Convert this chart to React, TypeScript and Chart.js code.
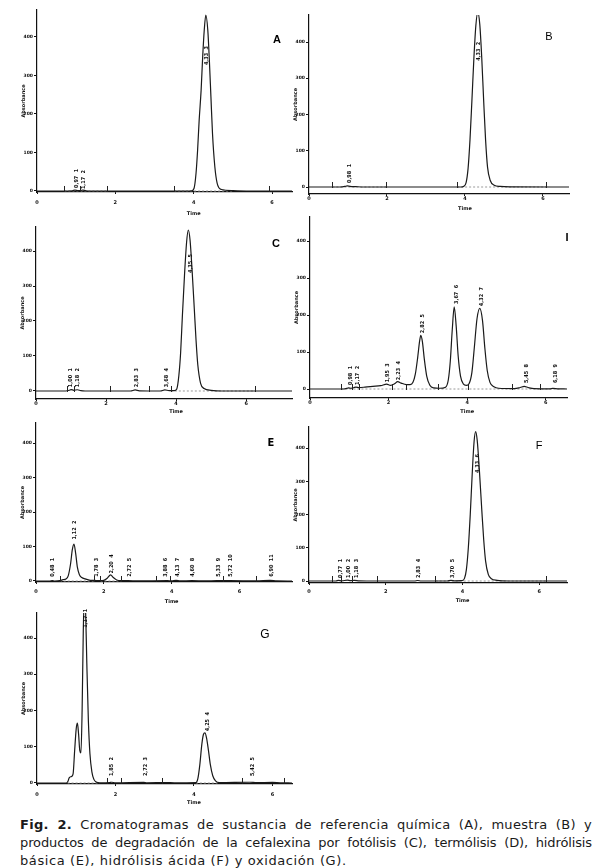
import React, { useEffect, useRef } from "react";
import { Chart, registerables } from "chart.js";

Chart.register(...registerables);

// ---------- Panel A : referencia química ----------
const aTime = [0, 0.6, 0.9, 0.97, 1.05, 1.12, 1.17, 1.25, 1.4, 3.8, 3.95, 4.01, 4.06, 4.1, 4.14, 4.19, 4.23, 4.27, 4.31, 4.36, 4.4, 4.44, 4.48, 4.54, 4.6, 4.71, 5.0, 5.5, 6.51];
const aAbs = [0, 0, 0.5, 2.5, 0.8, 1.2, 2.5, 0.6, 0, 0, 0.5, 7, 46, 106, 184, 262, 349, 418, 457, 418, 340, 245, 150, 63, 20, 4, 1, 0, 0];
const aLabelText = ["0,97  1", "1,17  2", "4,33  3"];
const aLabelT = [1.02, 1.2, 4.34];
const aLabelV = [8, 5, 327];
const aMarks = [0.69, 1.1, 1.78, 3.5, 5.92];
const aDash = [[0.7, 1.8], [3.5, 5.0]];

// ---------- Panel B : muestra ----------
const bTime = [0, 0.8, 0.92, 0.98, 1.05, 1.2, 1.4, 3.9, 3.97, 4.03, 4.08, 4.13, 4.18, 4.23, 4.28, 4.33, 4.38, 4.43, 4.48, 4.53, 4.58, 4.65, 4.75, 4.9, 5.2, 6.67];
const bAbs = [0, 0, 1.5, 3, 2, 1, 0, 0, 2, 12, 50, 130, 240, 355, 445, 482, 450, 360, 240, 130, 55, 18, 5, 1.5, 0.5, 0];
const bLabelText = ["0,98  1", "4,33  2"];
const bLabelT = [1.03, 4.36];
const bLabelV = [11, 348];
const bMarks = [0.58, 1.97, 3.8, 6.08];
const bDash = [[0.6, 2.0], [3.8, 6.1]];

// ---------- Panel C : fotólisis ----------
const cTime = [0, 0.85, 0.95, 1.0, 1.08, 1.18, 1.28, 1.4, 2.7, 2.83, 2.95, 3.55, 3.68, 3.8, 3.95, 4.02, 4.08, 4.13, 4.18, 4.24, 4.3, 4.35, 4.4, 4.46, 4.52, 4.57, 4.62, 4.7, 4.8, 5.0, 5.3, 7.31];
const cAbs = [0, 0, 2, 4, 2, 3.5, 1, 0, 0, 3, 0.5, 0, 3, 1, 1, 6, 45, 110, 215, 330, 425, 460, 430, 340, 235, 145, 75, 22, 7, 2, 0, 0];
const cLabelText = ["1,00  1", "1,18  2", "2,83  3", "3,68  4", "4,35  5"];
const cLabelT = [1.0, 1.2, 2.86, 3.74, 4.4];
const cLabelV = [11, 11, 11, 11, 337];
const cMarks = [0.88, 1.08, 2.1, 3.24, 3.85, 6.26];
const cDash = [[3.85, 6.26]];

// ---------- Panel D : termólisis ----------
const dTime = [0, 0.85, 0.95, 0.98, 1.05, 1.12, 1.17, 1.25, 1.4, 1.6, 1.8, 1.95, 2.05, 2.15, 2.23, 2.32, 2.45, 2.55, 2.62, 2.68, 2.74, 2.79, 2.82, 2.86, 2.91, 2.97, 3.05, 3.15, 3.3, 3.45, 3.52, 3.57, 3.62, 3.67, 3.72, 3.77, 3.83, 3.9, 3.98, 4.05, 4.12, 4.18, 4.25, 4.32, 4.39, 4.45, 4.51, 4.58, 4.68, 4.8, 5.2, 5.35, 5.45, 5.55, 5.7, 6.1, 6.18, 6.3, 6.54];
const dAbs = [0, 0, 2, 3, 2, 4, 5, 4, 5, 7, 9, 13, 10, 14, 20, 16, 12, 12, 18, 40, 85, 130, 145, 128, 80, 35, 10, 3, 2, 5, 25, 75, 160, 222, 170, 90, 35, 14, 10, 15, 45, 110, 190, 218, 185, 110, 50, 18, 6, 2, 1, 4, 7, 4, 1, 0.5, 1.5, 0.5, 0];
const dLabelText = ["0,98  1", "1,17  2", "1,95  3", "2,23  4", "2,82  5", "3,67  6", "4,32  7", "5,45  8", "6,18  9"];
const dLabelT = [1.04, 1.22, 1.98, 2.26, 2.87, 3.72, 4.37, 5.52, 6.26];
const dLabelV = [11, 11, 18, 24, 151, 230, 224, 16, 16];
const dMarks = [0.8, 1.06, 1.25, 2.08, 2.45, 3.25, 4.02, 5.14, 5.85];
const dDash = [[0.8, 6.4]];

// ---------- Panel E : hidrólisis básica ----------
const eTime = [0, 0.4, 0.48, 0.55, 0.7, 0.8, 0.88, 0.95, 1.02, 1.07, 1.12, 1.17, 1.22, 1.28, 1.35, 1.45, 1.6, 1.78, 1.9, 2.0, 2.1, 2.2, 2.28, 2.38, 2.5, 2.72, 3.0, 3.88, 4.0, 4.13, 4.25, 4.6, 5.0, 5.33, 5.72, 6.5, 6.9, 7.1, 7.55];
const eAbs = [0, 0, 1.5, 0, 1, 4, 6, 15, 50, 90, 107, 80, 40, 18, 10, 6, 2, 1.5, 1, 2, 8, 18, 10, 3, 1, 1, 0.5, 1, 0.5, 2, 0.5, 1, 0.5, 1, 1, 0.5, 2, 0.5, 0];
const eLabelText = ["0,48  1", "1,12  2", "1,78  3", "2,20  4", "2,72  5", "3,88  6", "4,13  7", "4,60  8", "5,33  9", "5,72  10", "6,90  11"];
const eLabelT = [0.5, 1.15, 1.8, 2.24, 2.75, 3.83, 4.18, 4.62, 5.38, 5.74, 6.95];
const eLabelV = [12, 120, 12, 22, 12, 12, 12, 12, 12, 12, 12];
const eMarks = [0.7, 1.7, 1.88, 2.5, 3.53, 3.95, 5.52, 6.49];
const eDash = [[0.7, 1.7], [1.9, 2.5]];

// ---------- Panel F : hidrólisis ácida ----------
const fTime = [0, 0.7, 0.77, 0.85, 1.0, 1.08, 1.18, 1.3, 1.5, 2.75, 2.83, 2.92, 3.6, 3.7, 3.8, 3.98, 4.05, 4.1, 4.15, 4.2, 4.25, 4.3, 4.34, 4.38, 4.44, 4.5, 4.55, 4.6, 4.67, 4.75, 4.9, 5.2, 6.72];
const fAbs = [0, 0, 2, 0.5, 2.5, 1, 2, 0.5, 0, 0, 1.5, 0, 0, 2, 0.5, 1, 8, 35, 100, 200, 320, 420, 450, 425, 330, 215, 125, 60, 20, 7, 2, 0, 0];
const fLabelText = ["0,77  1", "1,00  2", "1,18  3", "2,83  4", "3,70  5", "4,33  6"];
const fLabelT = [0.83, 1.04, 1.25, 2.86, 3.75, 4.4];
const fLabelV = [9, 9, 9, 9, 9, 325];
const fMarks = [0.6, 0.83, 1.12, 1.77, 3.28, 6.17];
const fDash = [[3.3, 6.17]];

// ---------- Panel G : oxidación ----------
const gTime = [0, 0.75, 0.79, 0.82, 0.88, 0.92, 0.96, 1.0, 1.03, 1.06, 1.09, 1.12, 1.15, 1.18, 1.21, 1.24, 1.27, 1.31, 1.35, 1.4, 1.45, 1.52, 1.6, 1.85, 1.9, 2.0, 2.72, 2.8, 3.3, 3.5, 4.05, 4.1, 4.15, 4.2, 4.24, 4.28, 4.32, 4.37, 4.42, 4.48, 4.55, 4.65, 5.42, 5.6, 6.0, 6.2, 6.5];
const gAbs = [0, 0, 5, 14, 18, 25, 90, 150, 165, 135, 90, 83, 200, 420, 520, 470, 330, 170, 80, 30, 10, 2, 0.5, 1, 2, 0.5, 1.5, 0.5, 1, 0.5, 1, 12, 50, 105, 133, 138, 125, 90, 50, 20, 6, 1, 2, 1, 1.5, 0.5, 0];
const gLabelText = ["1,17  1", "1,85  2", "2,72  3", "4,25  4", "5,42  5"];
const gLabelT = [1.25, 1.91, 2.78, 4.34, 5.49];
const gLabelV = [428, 19, 19, 143, 19];
const gMarks = [1.79, 2.14, 3.19, 5.22, 6.3];
const gDash = [[0.78, 1.6], [4.05, 4.6]];

const xTickValues = [0, 2, 4, 6];
const yTickValues = [0, 100, 200, 300, 400];

type PanelCfg = {
  time: number[]; abs: number[];
  labelText: string[]; labelT: number[]; labelV: number[];
  marks: number[]; dash: number[][];
  axisX: number; topY: number; rightX: number; axisY: number;
  xMax: number; yMin: number; yMax: number;
  letter: string; letterX: number; letterY: number; letterFont: string;
  tickPad: number; timeOff: number;
};

const panels: PanelCfg[] = [
  { time: aTime, abs: aAbs, labelText: aLabelText, labelT: aLabelT, labelV: aLabelV, marks: aMarks, dash: aDash,
    axisX: 37, topY: 10, rightX: 292, axisY: 192, xMax: 6.51, yMin: -2.6, yMax: 470,
    letter: "A", letterX: 277, letterY: 40, letterFont: 'bold 11px "Liberation Sans"', tickPad: 6, timeOff: 22 },
  { time: bTime, abs: bAbs, labelText: bLabelText, labelT: bLabelT, labelV: bLabelV, marks: bMarks, dash: bDash,
    axisX: 309, topY: 15, rightX: 569, axisY: 194, xMax: 6.67, yMin: -19.3, yMax: 474.5,
    letter: "B", letterX: 549, letterY: 37, letterFont: '11px "Liberation Sans"', tickPad: 0, timeOff: 15 },
  { time: cTime, abs: cAbs, labelText: cLabelText, labelT: cLabelT, labelV: cLabelV, marks: cMarks, dash: cDash,
    axisX: 36, topY: 227, rightX: 292, axisY: 399, xMax: 7.31, yMin: -22.9, yMax: 468.6,
    letter: "C", letterX: 276, letterY: 244, letterFont: 'bold 11px "Liberation Sans"', tickPad: 0, timeOff: 13 },
  { time: dTime, abs: dAbs, labelText: dLabelText, labelT: dLabelT, labelV: dLabelV, marks: dMarks, dash: dDash,
    axisX: 310, topY: 217, rightX: 567, axisY: 398, xMax: 6.54, yMin: -24.3, yMax: 464.9,
    letter: "I", letterX: 567, letterY: 238, letterFont: 'bold 11px "Liberation Sans"', tickPad: 0, timeOff: 14 },
  { time: eTime, abs: eAbs, labelText: eLabelText, labelT: eLabelT, labelV: eLabelV, marks: eMarks, dash: eDash,
    axisX: 36, topY: 423, rightX: 292, axisY: 582, xMax: 7.55, yMin: -2.9, yMax: 458,
    letter: "E", letterX: 271, letterY: 443, letterFont: 'bold 11px "DejaVu Sans Condensed"', tickPad: 5, timeOff: 20 },
  { time: fTime, abs: fAbs, labelText: fLabelText, labelT: fLabelT, labelV: fLabelV, marks: fMarks, dash: fDash,
    axisX: 309, topY: 427, rightX: 567, axisY: 583, xMax: 6.72, yMin: -6, yMax: 463.9,
    letter: "F", letterX: 539, letterY: 446, letterFont: '11px "Liberation Sans"', tickPad: 4, timeOff: 18 },
  { time: gTime, abs: gAbs, labelText: gLabelText, labelT: gLabelT, labelV: gLabelV, marks: gMarks, dash: gDash,
    axisX: 37, topY: 613, rightX: 292, axisY: 784, xMax: 6.5, yMin: -2.8, yMax: 469,
    letter: "G", letterX: 265, letterY: 635, letterFont: '12px "Liberation Sans"', tickPad: 6, timeOff: 19 },
];

const PAD_L = 36, PAD_T = 14, PAD_R = 12, PAD_B = 26;

function Panel({ p }: { p: PanelCfg }) {
  const ref = useRef<HTMLCanvasElement | null>(null);
  const left = p.axisX - PAD_L;
  const top = p.topY - PAD_T;
  const W = p.rightX - p.axisX + PAD_L + PAD_R;
  const H = p.axisY - p.topY + PAD_T + PAD_B;

  useEffect(() => {
    const dashData: any[] = [];
    p.dash.forEach(([a, b]) => {
      dashData.push({ x: a, y: 0 }, { x: b, y: 0 }, { x: b + 0.001, y: null });
    });
    const annot = {
      id: "annot",
      afterDraw(chart: any) {
        const { ctx, chartArea } = chart;
        const xs = chart.scales.x, ys = chart.scales.y;
        ctx.save();
        ctx.strokeStyle = "#222";
        ctx.lineWidth = 1;
        const y0 = ys.getPixelForValue(0);
        p.marks.forEach((t) => {
          const px = Math.round(xs.getPixelForValue(t)) + 0.5;
          ctx.beginPath();
          ctx.moveTo(px, y0 + 1);
          ctx.lineTo(px, y0 - 5);
          ctx.stroke();
        });
        ctx.fillStyle = "#111";
        ctx.font = 'bold 5.5px "DejaVu Sans Condensed"';
        ctx.textAlign = "left";
        ctx.textBaseline = "middle";
        p.labelText.forEach((txt, i) => {
          ctx.save();
          ctx.translate(xs.getPixelForValue(p.labelT[i]), ys.getPixelForValue(p.labelV[i]));
          ctx.rotate(-Math.PI / 2);
          ctx.fillText(txt, 0, 0);
          ctx.restore();
        });
        ctx.save();
        ctx.font = 'bold 5px "DejaVu Sans"';
        ctx.textAlign = "center";
        ctx.translate(chartArea.left - 13.5, (chartArea.top + chartArea.bottom) / 2);
        ctx.rotate(-Math.PI / 2);
        ctx.fillText("Absorbance", 0, 0);
        ctx.restore();
        ctx.font = 'bold 5px "DejaVu Sans"';
        ctx.textAlign = "center";
        ctx.fillText("Time", xs.getPixelForValue(4), chartArea.bottom + p.timeOff);
        ctx.font = p.letterFont;
        ctx.fillStyle = "#000";
        ctx.fillText(p.letter, p.letterX - left, p.letterY - top);
        ctx.restore();
      },
    };

    const chart = new Chart(ref.current as HTMLCanvasElement, {
      type: "line",
      data: {
        datasets: [
          {
            data: p.time.map((t, i) => ({ x: t, y: p.abs[i] })),
            borderColor: "#1a1a1a",
            borderWidth: 1.2,
            pointRadius: 0,
            cubicInterpolationMode: "monotone",
            fill: false,
          },
          {
            data: dashData,
            borderColor: "#999",
            borderWidth: 1,
            borderDash: [2, 2],
            pointRadius: 0,
            spanGaps: false,
            fill: false,
          },
        ],
      } as any,
      options: {
        animation: false,
        responsive: false,
        maintainAspectRatio: false,
        events: [],
        layout: { padding: { top: PAD_T, right: PAD_R, left: 0, bottom: 0 } },
        plugins: { legend: { display: false }, tooltip: { enabled: false } },
        scales: {
          x: {
            type: "linear",
            min: 0,
            max: p.xMax,
            afterFit: (s: any) => { s.height = PAD_B; },
            afterBuildTicks: (s: any) => { s.ticks = xTickValues.map((v) => ({ value: v })); },
            grid: { display: true, drawOnChartArea: false, drawTicks: true, tickLength: 2, color: "#111" },
            border: { display: true, color: "#111", width: 1.2 },
            ticks: { font: { size: 5, weight: "bold", family: "DejaVu Sans" }, color: "#111", padding: p.tickPad, maxRotation: 0, autoSkip: false },
          },
          y: {
            type: "linear",
            min: p.yMin,
            max: p.yMax,
            afterFit: (s: any) => { s.width = PAD_L; },
            afterBuildTicks: (s: any) => { s.ticks = yTickValues.map((v) => ({ value: v })); },
            grid: { display: true, drawOnChartArea: false, drawTicks: true, tickLength: 3, color: "#111" },
            border: { display: true, color: "#111", width: 1.2 },
            ticks: { font: { size: 4.5, weight: "bold", family: "DejaVu Sans" }, color: "#111", padding: 1, autoSkip: false },
          },
        },
      } as any,
      plugins: [annot],
    });
    return () => chart.destroy();
  }, []);

  return (
    <canvas
      ref={ref}
      width={W}
      height={H}
      style={{ position: "absolute", left, top, width: W, height: H }}
    />
  );
}

const captionLines = [
  "Cromatogramas de sustancia de referencia química (A), muestra (B) y",
  "productos de degradación de la cefalexina por fotólisis (C), termólisis (D), hidrólisis",
  "básica (E), hidrólisis ácida (F) y oxidación (G).",
];

export default function App() {
  const lineStyle: React.CSSProperties = {
    whiteSpace: "nowrap",
    height: 18,
    lineHeight: "18px",
  };
  return (
    <div style={{ position: "absolute", left: 0, top: 0, width: 608, height: 868, background: "#fff", overflow: "hidden" }}>
      {panels.map((p, i) => (
        <Panel key={i} p={p} />
      ))}
      <div
        style={{
          position: "absolute",
          left: 20,
          top: 816,
          width: 572,
          fontFamily: '"DejaVu Sans", Verdana, sans-serif',
          fontSize: 13,
          color: "#1a1a1a",
        }}
      >
        <div style={{ ...lineStyle, letterSpacing: "0.3px", textAlign: "justify", textAlignLast: "justify" }}>
          <b>Fig. 2.</b> {captionLines[0]}
        </div>
        <div style={{ ...lineStyle, letterSpacing: "-0.12px", textAlign: "justify", textAlignLast: "justify" }}>{captionLines[1]}</div>
        <div style={{ ...lineStyle, letterSpacing: "0.6px", textAlign: "left" }}>{captionLines[2]}</div>
      </div>
    </div>
  );
}
